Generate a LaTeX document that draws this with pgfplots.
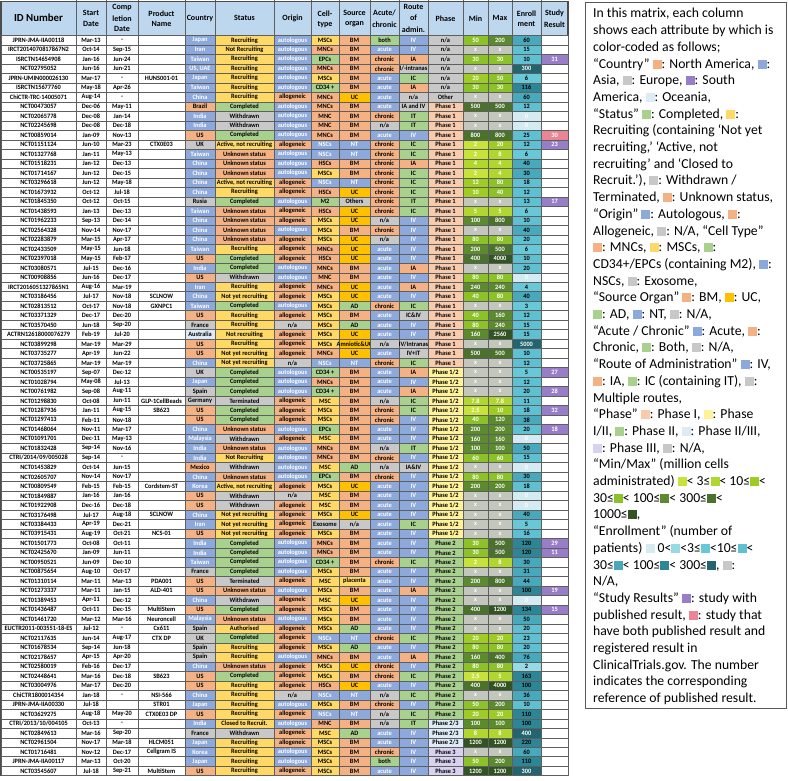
\documentclass[border=0pt]{standalone}
\usepackage{pgfplots}
\pgfplotsset{compat=1.18}
\usepackage{pgfplotstable}
\usepackage{fontspec}
\setmainfont{Carlito}
\newfontfamily\cellfam[FakeStretch=0.96]{Carlito}
\newcommand\cellfont{\cellfam\bfseries\fontsize{6.6}{7.2}\selectfont}
\newcommand\hdrfont{\bfseries\fontsize{8}{9}\selectfont}

\definecolor{fW}{RGB}{255,255,255}
\definecolor{fO}{RGB}{244,177,131}
\definecolor{fB}{RGB}{141,168,218}
\definecolor{fG}{RGB}{200,200,200}
\definecolor{fC}{RGB}{221,235,247}
\definecolor{fY}{RGB}{255,217,102}
\definecolor{fGr}{RGB}{169,209,142}
\definecolor{fA}{RGB}{255,192,0}
\definecolor{fP1}{RGB}{248,203,173}
\definecolor{fP12}{RGB}{255,242,153}
\definecolor{fP23}{RGB}{221,235,247}
\definecolor{fP3}{RGB}{216,210,240}
\definecolor{fPu}{RGB}{152,126,200}
\definecolor{fPk}{RGB}{234,134,148}
\definecolor{fX}{RGB}{195,198,188}
\definecolor{fm1}{RGB}{200,226,60}
\definecolor{fm2}{RGB}{178,214,48}
\definecolor{fm3}{RGB}{158,204,36}
\definecolor{fm4}{RGB}{140,194,40}
\definecolor{fm5}{RGB}{92,138,46}
\definecolor{fm6}{RGB}{74,114,44}
\definecolor{fm7}{RGB}{50,84,34}
\definecolor{fe0}{RGB}{212,235,241}
\definecolor{fe1}{RGB}{150,218,230}
\definecolor{fe2}{RGB}{105,200,216}
\definecolor{fe3}{RGB}{95,192,210}
\definecolor{fe4}{RGB}{72,168,188}
\definecolor{fe5}{RGB}{44,134,150}
\definecolor{fe6}{RGB}{35,100,110}
\definecolor{cH}{RGB}{189,215,238}
\definecolor{gridc}{RGB}{95,95,95}

\colorlet{tW}{black}\colorlet{tO}{black}\colorlet{tB}{white}\colorlet{tG}{black}
\colorlet{tC}{black}\colorlet{tY}{black}\colorlet{tGr}{black}\colorlet{tA}{black}
\colorlet{tP1}{black}\colorlet{tP12}{black}\colorlet{tP23}{black}\colorlet{tP3}{black}
\colorlet{tPu}{white}\colorlet{tPk}{white}\colorlet{tX}{white}
\colorlet{tm1}{white}\colorlet{tm2}{white}\colorlet{tm3}{white}\colorlet{tm4}{white}
\colorlet{tm5}{white}\colorlet{tm6}{white}\colorlet{tm7}{white}
\colorlet{te0}{white}\colorlet{te1}{black}\colorlet{te2}{black}\colorlet{te3}{black}
\colorlet{te4}{black}\colorlet{te5}{black}\colorlet{te6}{white}

\tikzset{
  cellbox/.style={anchor=center, inner sep=0pt, font=\cellfont, minimum width=#1pt,
    minimum height=9.49pt, draw=gridc, line width=0.5pt},
  cellcol/.code={\edef\cc{\pgfplotspointmeta}\pgfkeysalso{fill=f\cc, text=t\cc}},
}

\newcommand\sq[1]{\textcolor{#1}{\rule[-0.5pt]{9pt}{9pt}}}

\pgfplotstableread[col sep=semicolon]{
id;st;co;pr;cn;cnc;ss;ssc;or;orc;ce;cec;so;soc;ac;acc;ro;roc;ph;phc;mn;mnc;mx;mxc;en;enc;sr;src
JPRN-JMA-IIA00118;Mar-13;-;;Japan;B;Recruiting;Y;autologous;B;MSCs;Y;BM;O;both;Gr;IV;B;n/a;G;50;m4;200;m5;60;e4;;W
IRCT2014070817867N2;Oct-14;Sep-15;;Iran;B;Not Recruiting;Y;autologous;B;MNCs;O;BM;O;acute;B;IV;B;n/a;G;x;X;x;X;15;e3;;W
ISRCTN14654908;Jan-16;Jun-24;;Taiwan;B;Recruiting;Y;autologous;B;EPCs;Gr;BM;O;chronic;O;IA;O;n/a;G;30;m4;30;m4;10;e3;31;Pu
NCT02795052;Jun-16;Jun-21;;US, UAE;B;Recruiting;Y;autologous;B;MNCs;O;BM;O;chronic;O;I/-intranas;G;n/a;G;x;X;x;X;300;e6;;W
JPRN-UMIN000026130;Mar-17;-;HUNS001-01;Japan;B;Recruiting;Y;autologous;B;MSCs;Y;BM;O;acute;B;IC;Gr;n/a;G;20;m3;50;m4;6;e2;;W
ISRCTN15677760;May-18;Apr-26;;Taiwan;B;Recruiting;Y;autologous;B;CD34 +;Gr;BM;O;acute;B;IA;O;n/a;G;30;m4;30;m4;116;e5;;W
ChiCTR-TRC-14005071;Aug-14;-;;China;B;Recruiting;Y;allogeneic;O;MNCs;O;UC;A;acute;B;n/a;G;Other;G;x;X;x;X;60;e4;;W
NCT00473057;Dec-06;May-11;;Brazil;O;Completed;Gr;autologous;B;MNCs;O;BM;O;acute;B;IA and IV;G;Phase 1;P1;500;m6;500;m6;12;e3;;W
NCT02065778;Dec-08;Jan-14;;India;B;Withdrawn;G;autologous;B;MNC;O;BM;O;chronic;O;IT;Gr;Phase 1;P1;x;X;x;X;0;e0;;W
NCT02245698;Dec-08;Dec-18;;India;B;Withdrawn;G;autologous;B;MNC;O;BM;O;n/a;G;IT;Gr;Phase 1;P1;x;X;x;X;0;e0;;W
NCT00859014;Jan-09;Nov-13;;US;O;Completed;Gr;autologous;B;MNCs;O;BM;O;acute;B;IV;B;Phase 1;P1;800;m6;800;m6;25;e3;30;Pk
NCT01151124;Jun-10;Mar-23;CTX0E03;UK;G;Active, not recruiting;Y;allogeneic;O;NSCs;B;NT;B;chronic;O;IC;Gr;Phase 1;P1;2;m1;20;m3;12;e3;23;Pu
NCT01327768;Jan-11;May-13;;Taiwan;B;Unknown status;O;autologous;B;NSCs;B;NT;B;chronic;O;IC;Gr;Phase 1;P1;2;m1;8;m2;6;e2;;W
NCT01518231;Jan-12;Dec-13;;China;B;Unknown status;O;autologous;B;HSCs;O;BM;O;chronic;O;IA;O;Phase 1;P1;4;m2;4;m2;40;e4;;W
NCT01714167;Jun-12;Dec-15;;China;B;Unknown status;O;autologous;B;MSCs;Y;BM;O;chronic;O;IC;Gr;Phase 1;P1;2;m1;4;m2;30;e4;;W
NCT03296618;Jun-12;May-18;;China;B;Active, not recruiting;Y;allogeneic;O;NSCs;B;NT;B;chronic;O;IC;Gr;Phase 1;P1;12;m3;80;m4;18;e3;;W
NCT01673932;Oct-12;Jul-18;;China;B;Recruiting;Y;allogeneic;O;HSCs;O;UC;A;chronic;O;IC;Gr;Phase 1;P1;10;m3;40;m4;12;e3;;W
NCT01845350;Oct-12;Oct-15;;Rusia;G;Completed;Gr;autologous;B;M2;Gr;Others;G;chronic;O;IT;Gr;Phase 1;P1;x;X;x;X;13;e3;17;Pu
NCT01438593;Jan-13;Dec-13;;Taiwan;B;Unknown status;O;allogeneic;O;HSCs;O;UC;A;chronic;O;IC;Gr;Phase 1;P1;5;m2;5;m2;6;e2;;W
NCT01962233;Sep-13;Dec-14;;China;B;Unknown status;O;allogeneic;O;MSCs;Y;UC;A;n/a;G;IV;B;Phase 1;P1;100;m5;800;m6;10;e3;;W
NCT02564328;Nov-14;Nov-17;;China;B;Unknown status;O;autologous;B;MSCs;Y;BM;O;chronic;O;IV;B;Phase 1;P1;x;X;x;X;40;e4;;W
NCT02283879;Mar-15;Apr-17;;China;B;Unknown status;O;allogeneic;O;MSCs;Y;UC;A;n/a;G;IV;B;Phase 1;P1;80;m4;80;m4;20;e3;;W
NCT02433509;May-15;Jun-18;;Taiwan;B;Recruiting;Y;allogeneic;O;MNCs;O;UC;A;acute;B;IV;B;Phase 1;P1;200;m5;500;m6;6;e2;;W
NCT02397018;May-15;Feb-17;;US;O;Completed;Gr;allogeneic;O;HSCs;O;UC;A;acute;B;IV;B;Phase 1;P1;400;m6;4000;m7;10;e3;;W
NCT03080571;Jul-15;Dec-16;;India;B;Completed;Gr;autologous;B;MNCs;O;BM;O;acute;B;IA;O;Phase 1;P1;x;X;x;X;20;e3;;W
NCT00908856;Jun-16;Dec-17;;US;O;Withdrawn;G;autologous;B;MNC;O;BM;O;acute;B;IV;B;Phase 1;P1;80;m4;80;m4;0;e0;;W
IRCT2016051327865N1;Aug-16;Mar-19;;Iran;B;Recruiting;Y;allogeneic;O;MNCs;O;UC;A;acute;B;IA;O;Phase 1;P1;240;m5;240;m5;4;e2;;W
NCT03186456;Jul-17;Nov-18;SCLNOW;China;B;Not yet recruiting;Y;allogeneic;O;MSCs;Y;UC;A;acute;B;IV;B;Phase 1;P1;40;m4;80;m4;40;e4;;W
NCT02813512;Oct-17;Nov-18;GXNPC1;Taiwan;B;Completed;Gr;autologous;B;MSCs;Y;AD;Gr;chronic;O;IC;Gr;Phase 1;P1;x;X;x;X;3;e2;;W
NCT03371329;Dec-17;Dec-20;;US;O;Recruiting;Y;allogeneic;O;MSCs;Y;BM;O;acute;B;IC\&IV;G;Phase 1;P1;40;m4;160;m5;12;e3;;W
NCT03570450;Jun-18;Sep-20;;France;G;Recruiting;Y;n/a;G;MSCs;Y;AD;Gr;acute;B;IV;B;Phase 1;P1;80;m4;240;m5;15;e3;;W
ACTRN12618000076279;Feb-19;Jul-20;;Australia;C;Not recruiting;Y;allogeneic;O;MSCs;Y;UC;A;acute;B;IV;B;Phase 1;P1;160;m5;2560;m7;15;e3;;W
NCT03899298;Mar-19;Mar-29;;US;O;Recruiting;Y;allogeneic;O;MSCs;Y;Amniotic\&UC;A;n/a;G;IV/Intranas;G;Phase 1;P1;x;X;x;X;5000;e6;;W
NCT03735277;Apr-19;Jun-22;;US;O;Not yet recruiting;Y;allogeneic;O;MNCs;O;UC;A;acute;B;IV+IT;G;Phase 1;P1;500;m6;500;m6;10;e3;;W
NCT03725865;Mar-19;Mar-19;;China;B;Not yet recruiting;Y;n/a;G;NSCs;B;NT;B;chronic;O;IC;Gr;Phase 1;P1;x;X;x;X;12;e3;;W
NCT00535197;Sep-07;Dec-12;;UK;G;Completed;Gr;autologous;B;CD34 +;Gr;BM;O;acute;B;IA;O;Phase 1/2;P12;x;X;x;X;5;e2;27;Pu
NCT01028794;May-08;Jul-13;;Japan;B;Completed;Gr;autologous;B;MNCs;O;BM;O;acute;B;IV;B;Phase 1/2;P12;x;X;x;X;12;e3;;W
NCT00761982;Sep-08;Aug-11;;Spain;G;Completed;Gr;autologous;B;CD34 +;Gr;BM;O;acute;B;IA;O;Phase 1/2;P12;x;X;x;X;20;e3;28;Pu
NCT01298830;Oct-08;Jun-11;GLP-1CellBeads;Germany;G;Terminated;G;allogeneic;O;MSC;Y;BM;O;n/a;G;IC;Gr;Phase 1/2;P12;7.8;m2;7.8;m2;11;e3;;W
NCT01287936;Jan-11;Aug-15;SB623;US;O;Completed;Gr;allogeneic;O;MSCs;Y;BM;O;chronic;O;IC;Gr;Phase 1/2;P12;2.5;m1;10;m3;18;e3;32;Pu
NCT01297413;Feb-11;Nov-18;;US;O;Completed;Gr;allogeneic;O;MSCs;Y;BM;O;chronic;O;IV;B;Phase 1/2;P12;40;m4;120;m5;38;e4;;W
NCT01468064;Nov-11;Mar-17;;China;B;Unknown status;O;autologous;B;EPCs;Gr;BM;O;acute;B;IV;B;Phase 1/2;P12;200;m5;200;m5;20;e3;18;Pu
NCT01091701;Dec-11;May-13;;Malaysia;B;Withdrawn;G;allogeneic;O;MSC;Y;BM;O;acute;B;IV;B;Phase 1/2;P12;160;m5;160;m5;0;e0;;W
NCT01832428;Sep-14;Nov-16;;India;B;Unknown status;O;autologous;B;MNCs;O;BM;O;n/a;G;IT;Gr;Phase 1/2;P12;100;m5;100;m5;50;e4;;W
CTRI/2014/09/005028;Sep-14;-;;India;B;Not Recruiting;Y;autologous;B;MNCs;O;BM;O;chronic;O;IV;B;Phase 1/2;P12;60;m4;60;m4;15;e3;;W
NCT01453829;Oct-14;Jun-15;;Mexico;O;Withdrawn;G;autologous;B;MSC;Y;AD;Gr;n/a;G;IA\&IV;G;Phase 1/2;P12;x;X;x;X;0;e0;;W
NCT02605707;Nov-14;Nov-17;;China;B;Unknown status;O;autologous;B;EPCs;Gr;BM;O;chronic;O;IV;B;Phase 1/2;P12;80;m4;80;m4;30;e4;;W
NCT00809549;Feb-15;Feb-15;Cordstem-ST;Korea;B;Active, not recruiting;Y;allogeneic;O;MSCs;Y;UC;A;acute;B;IV;B;Phase 1/2;P12;200;m5;200;m5;18;e3;;W
NCT01849887;Jan-16;Jan-16;;US;O;Withdrawn;G;n/a;G;MSC;Y;BM;O;acute;B;IV;B;Phase 1/2;P12;x;X;x;X;0;e0;;W
NCT01922908;Dec-16;Dec-18;;US;O;Withdrawn;G;allogeneic;O;MSC;Y;BM;O;acute;B;IV;B;Phase 1/2;P12;x;X;x;X;0;e0;;W
NCT03176498;Jul-17;Aug-18;SCLNOW;China;B;Not yet recruiting;Y;allogeneic;O;MSCs;Y;UC;A;acute;B;IV;B;Phase 1/2;P12;x;X;x;X;40;e4;;W
NCT03384433;Apr-19;Dec-21;;Iran;B;Not yet recruiting;Y;allogeneic;O;Exosome;G;n/a;G;acute;B;IC;Gr;Phase 1/2;P12;x;X;x;X;5;e2;;W
NCT03915431;Aug-19;Oct-21;NCS-01;US;O;Not yet recruiting;Y;allogeneic;O;MSCs;Y;BM;O;acute;B;IV;B;Phase 1/2;P12;x;X;x;X;16;e3;;W
NCT01501773;Oct-08;Oct-11;;India;B;Completed;Gr;autologous;B;MNCs;O;BM;O;acute;B;IV;B;Phase 2;Gr;30;m4;500;m6;120;e5;29;Pu
NCT02425670;Jan-09;Jun-11;;India;B;Completed;Gr;autologous;B;MNCs;O;BM;O;acute;B;IV;B;Phase 2;Gr;30;m4;500;m6;120;e5;11;Pu
NCT00950521;Jun-09;Dec-10;;Taiwan;B;Completed;Gr;autologous;B;CD34 +;Gr;BM;O;chronic;O;IC;Gr;Phase 2;Gr;2;m1;8;m2;30;e4;;W
NCT00875654;Aug-10;Oct-17;;France;G;Completed;Gr;autologous;B;MSCs;Y;BM;O;acute;B;IV;B;Phase 2;Gr;x;X;x;X;31;e4;;W
NCT01310114;Mar-11;Mar-13;PDA001;US;O;Terminated;G;allogeneic;O;MSC;Y;placenta;Y;acute;B;IV;B;Phase 2;Gr;200;m5;800;m6;44;e4;;W
NCT01273337;Mar-11;Jan-15;ALD-401;US;O;Unknown status;O;autologous;B;MSCs;Y;BM;O;acute;B;IA;O;Phase 2;Gr;x;X;x;X;100;e5;19;Pu
NCT01389453;Apr-11;Dec-12;;China;B;Withdrawn;G;allogeneic;O;MSC;Y;UC;A;acute;B;IV;B;Phase 2;Gr;x;X;x;X;0;e0;;W
NCT01436487;Oct-11;Dec-15;MultiStem;US;O;Completed;Gr;allogeneic;O;MSCs;Y;BM;O;acute;B;IV;B;Phase 2;Gr;400;m6;1200;m7;134;e5;15;Pu
NCT01461720;Mar-12;Mar-16;Neuroncell;Malaysia;B;Unknown status;O;autologous;B;MSCs;Y;BM;O;acute;B;IV;B;Phase 2;Gr;x;X;x;X;50;e4;;W
EUCTR2011-003551-18-ES;Jul-12;-;Cx611;Spain;G;Authorised;Y;allogeneic;O;MSCs;Y;AD;Gr;acute;B;IV;B;Phase 2;Gr;x;X;x;X;20;e3;;W
NCT02117635;Jun-14;Aug-17;CTX DP;UK;G;Completed;Gr;allogeneic;O;NSCs;B;NT;B;chronic;O;IC;Gr;Phase 2;Gr;20;m3;20;m3;23;e3;;W
NCT01678534;Sep-14;Jun-18;;Spain;G;Recruiting;Y;allogeneic;O;MSCs;Y;AD;Gr;acute;B;IV;B;Phase 2;Gr;80;m4;80;m4;20;e3;;W
NCT02178657;Apr-15;Apr-20;;Spain;G;Recruiting;Y;autologous;B;MNCs;O;BM;O;acute;B;IA;O;Phase 2;Gr;160;m5;400;m6;76;e4;;W
NCT02580019;Feb-16;Dec-17;;China;B;Unknown status;O;allogeneic;O;MSCs;Y;UC;A;chronic;O;IV;B;Phase 2;Gr;80;m4;80;m4;2;e1;;W
NCT02448641;Mar-16;Dec-18;SB623;US;O;Completed;Gr;allogeneic;O;MSCs;Y;BM;O;chronic;O;IC;Gr;Phase 2;Gr;2.5;m1;5;m2;163;e5;;W
NCT03004976;Mar-17;Dec-20;;US;O;Recruiting;Y;allogeneic;O;HSCs;O;UC;A;acute;B;IV;B;Phase 2;Gr;400;m6;4000;m7;100;e5;;W
ChiCTR1800014354;Jan-18;-;NSI-566;China;B;Recruiting;Y;n/a;G;NSCs;B;NT;B;n/a;G;IC;Gr;Phase 2;Gr;x;X;x;X;36;e4;;W
JPRN-JMA-IIA00330;Jul-18;;STR01;Japan;B;Recruiting;Y;autologous;B;MSCs;Y;BM;O;chronic;O;IV;B;Phase 2;Gr;50;m4;200;m5;10;e3;;W
NCT03629275;Aug-18;May-20;CTX0E03 DP;US;O;Recruiting;Y;allogeneic;O;NSCs;B;NT;B;n/a;G;IC;Gr;Phase 2;Gr;20;m3;20;m3;110;e5;;W
CTRI/2013/10/004105;Oct-13;-;;India;B;Closed to Recruit.;Y;autologous;B;MNC;O;BM;O;n/a;G;IT;Gr;Phase 2/3;P23;100;m5;100;m5;100;e5;;W
NCT02849613;Mar-16;Sep-20;;France;G;Withdrawn;G;allogeneic;O;MSC;Y;AD;Gr;acute;B;IV;B;Phase 2/3;P23;8;m2;8;m2;400;e6;;W
NCT02961504;Nov-17;Mar-18;HLCM051;Japan;B;Recruiting;Y;allogeneic;O;MSCs;Y;BM;O;acute;B;IV;B;Phase 2/3;P23;1200;m7;1200;m7;220;e5;;W
NCT01716481;Nov-12;Dec-17;Cellgram IS;Korea;B;Recruiting;Y;autologous;B;MSCs;Y;BM;O;chronic;O;IV;B;Phase 3;P3;x;X;x;X;60;e4;;W
JPRN-JMA-IIA00117;Mar-13;Oct-20;;Japan;B;Recruiting;Y;autologous;B;MSCs;Y;BM;O;both;Gr;IV;B;Phase 3;P3;50;m4;200;m5;110;e5;;W
NCT03545607;Jul-18;Sep-21;MultiStem;US;O;Recruiting;Y;allogeneic;O;MSCs;Y;BM;O;acute;B;IV;B;Phase 3;P3;1200;m7;1200;m7;300;e6;;W
}\datatable
\pgfplotstablecreatecol[create col/expr={40+\pgfplotstablerow*9.49}]{yy}\datatable
\pgfplotstablecreatecol[create col/set={38.5}]{x1}\datatable
\pgfplotstablecreatecol[create col/set={91}]{x2}\datatable
\pgfplotstablecreatecol[create col/set={122}]{x3}\datatable
\pgfplotstablecreatecol[create col/set={161.5}]{x4}\datatable
\pgfplotstablecreatecol[create col/set={200}]{x5}\datatable
\pgfplotstablecreatecol[create col/set={244.5}]{x6}\datatable
\pgfplotstablecreatecol[create col/set={292.5}]{x7}\datatable
\pgfplotstablecreatecol[create col/set={325}]{x8}\datatable
\pgfplotstablecreatecol[create col/set={354.5}]{x9}\datatable
\pgfplotstablecreatecol[create col/set={384.5}]{x10}\datatable
\pgfplotstablecreatecol[create col/set={413.5}]{x11}\datatable
\pgfplotstablecreatecol[create col/set={445.5}]{x12}\datatable
\pgfplotstablecreatecol[create col/set={475.5}]{x13}\datatable
\pgfplotstablecreatecol[create col/set={500}]{x14}\datatable
\pgfplotstablecreatecol[create col/set={526.5}]{x15}\datatable
\pgfplotstablecreatecol[create col/set={554.5}]{x16}\datatable

\newcommand\wplot[3]{%
\addplot[draw=none, mark=none,
  visualization depends on={value \coordindex\as\ri},
  nodes near coords={\pgfplotstablegetelem{\ri}{#3}\of\datatable\makebox[0pt]{\pgfplotsretval}},
  every node near coord/.append style={cellbox=#2, fill=white, text=black},
] table[x=#1, y=yy] {\datatable};}

\newcommand\cplot[4]{%
\addplot[draw=none, mark=none, point meta=explicit symbolic,
  visualization depends on={value \coordindex\as\ri},
  nodes near coords={\pgfplotstablegetelem{\ri}{#3}\of\datatable\makebox[0pt]{\pgfplotsretval}},
  every node near coord/.append style={cellbox=#2, cellcol},
] table[x=#1, y=yy, meta=#4] {\datatable};}

\begin{document}
\begin{tikzpicture}
\begin{axis}[x=1pt, y=1pt, y dir=reverse, xmin=0, xmax=788, ymin=0, ymax=780,
  hide axis, clip=false]
\path (axis cs:0,0) (axis cs:788,780);
% header
\addplot[fill=cH, draw=none] coordinates {(1,1) (568,1) (568,35.3) (1,35.3)} -- cycle;
\addplot[ycomb, draw=gridc, line width=0.5pt, mark=none] coordinates {(76,35.3) (106,35.3) (138,35.3) (185,35.3) (215,35.3) (274,35.3) (311,35.3) (339,35.3) (370,35.3) (399,35.3) (428,35.3) (463,35.3) (488,35.3) (512,35.3) (541,35.3)};
\addplot[draw=none, mark=none, nodes near coords, point meta=explicit symbolic,
  every node near coord/.append style={anchor=center, inner sep=0pt, font=\hdrfont}]
  table[col sep=semicolon, meta=t]{
x;y;t
91;13;Start
91;24;Date
122;7;Comp
122;18;letion
122;29;Date
161.5;13;Product
161.5;24;Name
200;18;Country
244.5;18;Status
292.5;18;Origin
325;13;Cell-
325;24;type
354.5;13;Source
354.5;24;organ
384.5;13;Acute/
384.5;24;chronic
413.5;7;Route
413.5;18;of
413.5;29;admin.
445.5;18;Phase
475.5;18;Min
500;18;Max
526.5;13;Enroll
526.5;24;ment
554.5;13;Study
554.5;24;Result
};
\addplot[draw=none, mark=none, nodes near coords, point meta=explicit symbolic,
  every node near coord/.append style={anchor=center, inner sep=0pt, font=\bfseries\fontsize{10.8}{12}\selectfont}]
  coordinates {(38.5,18) [ID Number]};
% body
\wplot{x1}{75}{id}
\wplot{x2}{30}{st}
\wplot{x3}{32}{co}
\wplot{x4}{47}{pr}
\cplot{x5}{30}{cn}{cnc}
\cplot{x6}{59}{ss}{ssc}
\cplot{x7}{37}{or}{orc}
\cplot{x8}{28}{ce}{cec}
\cplot{x9}{31}{so}{soc}
\cplot{x10}{29}{ac}{acc}
\cplot{x11}{29}{ro}{roc}
\cplot{x12}{35}{ph}{phc}
\cplot{x13}{25}{mn}{mnc}
\cplot{x14}{24}{mx}{mxc}
\cplot{x15}{29}{en}{enc}
\cplot{x16}{27}{sr}{src}
\draw[gridc!80!black, line width=1.3pt] (axis cs:1,1) rectangle (axis cs:568,775.4);
% legend box
\draw[black!65, line width=0.8pt] (axis cs:585,2) rectangle (axis cs:786,708);
\node[anchor=north west, inner sep=0pt, align=left, font=\fontsize{13.7}{16.7}\selectfont] at (axis cs:593,8) {%
In this matrix, each column\\
shows each attribute by which is\\
color-coded as follows;\\
“Country” \sq{fO}: North America, \sq{fB}:\\
Asia, \sq{fG}: Europe, \sq{fPu}: South\\
America, \sq{fC}: Oceania,\\
“Status” \sq{fGr}: Completed, \sq{fY}:\\
Recruiting (containing ‘Not yet\\
recruiting,’ ‘Active, not\\
recruiting’ and ‘Closed to\\
Recruit.’), \sq{fG}: Withdrawn /\\
Terminated, \sq{fO}: Unknown status,\\
“Origin” \sq{fB}: Autologous, \sq{fO}:\\
Allogeneic, \sq{fG}: N/A, “Cell Type”\\
\sq{fO}: MNCs, \sq{fY}: MSCs, \sq{fGr}:\\
CD34+/EPCs (containing M2), \sq{fB}:\\
NSCs, \sq{fG}: Exosome,\\
“Source Organ” \sq{fO}: BM, \sq{fA}: UC,\\
\sq{fGr}: AD, \sq{fB}: NT, \sq{fG}: N/A,\\
“Acute / Chronic” \sq{fB}: Acute, \sq{fO}:\\
Chronic, \sq{fGr}: Both, \sq{fG}: N/A,\\
“Route of Administration” \sq{fB}: IV,\\
\sq{fO}: IA, \sq{fGr}: IC (containing IT), \sq{fG}:\\
Multiple routes,\\
“Phase” \sq{fP1}: Phase I, \sq{fP12}: Phase\\
I/II, \sq{fGr}: Phase II, \sq{fP23}: Phase II/III,\\
\sq{fP3}: Phase III, \sq{fG}: N/A,\\
“Min/Max” (million cells\\
administrated) \sq{fm1}< 3≤\sq{fm2}< 10≤\sq{fm3}<\\
30≤\sq{fm4}< 100≤\sq{fm5}< 300≤\sq{fm6}<\\
1000≤\sq{fm7},\\
“Enrollment” (number of\\
patients) \sq{fe0} 0<\sq{fe1}<3≤\sq{fe2}<10≤\sq{fe3}<\\
30≤\sq{fe4}< 100≤\sq{fe5}< 300≤\sq{fe6}, \sq{fG}:\\
N/A,\\
“Study Results” \sq{fPu}: study with\\
published result, \sq{fPk}: study that\\
have both published result and\\
registered result in\\
ClinicalTrials.gov. The number\\
indicates the corresponding\\
reference of published result.};
\end{axis}
\end{tikzpicture}
\end{document}
